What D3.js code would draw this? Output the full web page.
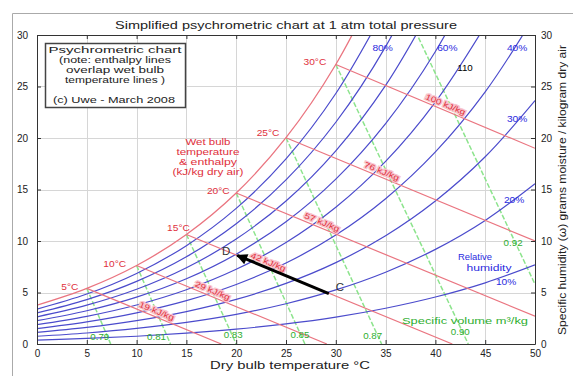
<!DOCTYPE html>
<html>
<head>
<meta charset="utf-8">
<script src="https://cdn.jsdelivr.net/npm/d3@7"></script>
<style>
  body { margin: 0; background: #fff; }
  svg { display: block; font-family: Arial, "Liberation Sans", sans-serif; }
</style>
</head>
<body>
<div id="app"></div>
<script>
const WIDTH = 573;
const HEIGHT = 376;

// dry bulb temperatures the curves were read at (°C)
const temps = [0, 5, 10, 15, 20, 25, 30, 35, 40, 45, 50];

// specific humidity (g/kg dry air) along the saturation and RH curves
const saturation = [3.77, 5.40, 7.62, 10.63, 14.66, 20.03, 27.14, 36.5];
const rh90 = [3.39, 4.85, 6.85, 9.55, 13.17, 17.97, 24.32, 32.66];
const rh80 = [3.02, 4.31, 6.08, 8.47, 11.68, 15.93, 21.53, 28.87, 38.46];
const rh70 = [2.64, 3.77, 5.31, 7.40, 10.19, 13.89, 18.76, 25.11, 33.39];
const rh60 = [2.26, 3.23, 4.55, 6.33, 8.72, 11.87, 16.01, 21.40, 28.40, 37.45];
const rh50 = [1.88, 2.69, 3.79, 5.27, 7.25, 9.86, 13.28, 17.73, 23.49, 30.90];
const rh40 = [1.50, 2.15, 3.03, 4.21, 5.78, 7.86, 10.58, 14.11, 18.65, 24.48, 31.91];
const rh30 = [1.13, 1.61, 2.27, 3.15, 4.33, 5.88, 7.90, 10.52, 13.89, 18.18, 23.63];
const rh20 = [0.75, 1.07, 1.51, 2.10, 2.88, 3.91, 5.25, 6.97, 9.19, 12.00, 15.56];
const rh10 = [0.38, 0.54, 0.75, 1.05, 1.44, 1.95, 2.61, 3.47, 4.56, 5.94, 7.68];
const rhSeries = [rh90, rh80, rh70, rh60, rh50, rh40, rh30, rh20, rh10];

// wet bulb / enthalpy lines: start on saturation, end [T, w]
const wetBulbTemps = [5, 10, 15, 20, 25, 30];
const enthalpyLabels = ['19 kJ/kg', '29 kJ/kg', '42 kJ/kg', '57 kJ/kg', '76 kJ/kg', '100 kJ/kg'];
const wetBulbEnds = [[18.5, 0], [29.1, 0], [41.7, 0], [50, 2.7], [50, 10.0], [50, 19.0]];

// specific volume lines (m3/kg), [T, w] at both ends
const volumeLabels = ['0.79', '0.81', '0.83', '0.85', '0.87', '0.90', '0.92'];
const volumeStarts = [[5, 5.40], [10, 7.62], [15, 10.63], [20, 14.66], [25, 20.03], [30, 27.14], [35, 36.5]];
const volumeEnds = [[7.4, 0], [13.4, 0], [20.0, 0], [26.9, 0], [34.6, 0], [43.3, 0], [50, 5.8]];

// process C -> D [T, w]
const stateC = [29.3, 4.9];
const stateD = [20.1, 8.6];

// label placements in chart units (layout only)
const rhLabelText = ['80%', '60%', '40%', '30%', '20%', '10%'];
const rhLabelAt = [[34.7, 28.7], [41.2, 28.7], [48.2, 28.7], [48.2, 21.8], [47.9, 14.0], [47.1, 6.0]];
const wetBulbLabelAt = [[3.3, 5.5], [7.8, 7.8], [14.2, 11.3], [18.2, 14.9], [23.2, 20.5], [27.9, 27.4]];
const enthalpyLabelAt = [11.8, 17.4, 23.0, 28.4, 34.4, 40.8];
const volumeLabelAt = [[6.3, 0.7], [12.0, 0.7], [19.7, 0.9], [26.4, 0.9], [33.7, 0.8], [42.5, 1.2], [47.8, 9.8]];

const RED = '#ea7580';
const RED_TEXT = '#e0303c';
const BLUE = '#4b4bcc';
const BLUE_TEXT = '#2a2ae0';
const GREEN = '#8de48d';
const GREEN_TEXT = '#2fae2f';

const svg = d3.select('#app').append('svg')
  .attr('width', WIDTH)
  .attr('height', HEIGHT);

const x = d3.scaleLinear().domain([0, 50]).range([37, 535]);
const y = d3.scaleLinear().domain([0, 30]).range([344, 35]);
const [plotLeft, plotRight] = x.range();
const [plotBottom, plotTop] = y.range();

function addText(parent, str, px, py, o = {}) {
  const t = parent.append('text')
    .attr('text-anchor', o.anchor || 'middle')
    .attr('font-size', o.size || 9)
    .attr('fill', o.fill || '#000')
    .text(str);
  if (o.width) {
    t.attr('x', px).attr('y', py)
      .attr('textLength', o.width)
      .attr('lengthAdjust', 'spacingAndGlyphs');
  } else {
    t.attr('transform', `translate(${px},${py}) scale(${o.sx || 1.15},1)`);
  }
  return t;
}

// outer figure frame
svg.append('path')
  .attr('d', `M12.5,${HEIGHT}V13.5H${WIDTH}`)
  .attr('fill', 'none')
  .attr('stroke', '#aaa');

addText(svg, 'Simplified psychrometric chart at 1 atm total pressure', 286, 29, { size: 11, fill: '#222', width: 342 });

svg.append('clipPath').attr('id', 'plot-clip')
  .append('rect')
  .attr('x', plotLeft).attr('y', plotTop)
  .attr('width', plotRight - plotLeft).attr('height', plotBottom - plotTop);

// grid
const grid = svg.append('g').attr('stroke', '#d6d6d6').attr('stroke-width', 1);
grid.selectAll('line.gx').data(x.ticks(10)).join('line')
  .attr('class', 'gx')
  .attr('x1', d => Math.round(x(d)) + 0.5).attr('x2', d => Math.round(x(d)) + 0.5)
  .attr('y1', plotTop).attr('y2', plotBottom);
grid.selectAll('line.gy').data(y.ticks(6)).join('line')
  .attr('class', 'gy')
  .attr('y1', d => Math.round(y(d)) + 0.5).attr('y2', d => Math.round(y(d)) + 0.5)
  .attr('x1', plotLeft).attr('x2', plotRight);

const plot = svg.append('g').attr('clip-path', 'url(#plot-clip)');

const curve = d3.line()
  .x(d => x(d[0]))
  .y(d => y(d[1]))
  .curve(d3.curveCatmullRom);

// specific volume lines
volumeStarts.forEach((s, i) => {
  plot.append('path')
    .attr('d', curve([s, volumeEnds[i]]))
    .attr('fill', 'none')
    .attr('stroke', GREEN)
    .attr('stroke-width', 1.5)
    .attr('stroke-dasharray', '5,2');
});

// relative humidity curves
rhSeries.forEach(vals => {
  plot.append('path')
    .datum(vals.map((w, i) => [temps[i], w]))
    .attr('d', curve)
    .attr('fill', 'none')
    .attr('stroke', BLUE)
    .attr('stroke-width', 1.2);
});

// wet bulb / enthalpy lines
const wetBulbStarts = wetBulbTemps.map(t => [t, saturation[temps.indexOf(t)]]);
wetBulbStarts.forEach((s, i) => {
  plot.append('path')
    .attr('d', curve([s, wetBulbEnds[i]]))
    .attr('fill', 'none')
    .attr('stroke', RED)
    .attr('stroke-width', 1.2);
});

// saturation curve
plot.append('path')
  .datum(saturation.map((w, i) => [temps[i], w]))
  .attr('d', curve)
  .attr('fill', 'none')
  .attr('stroke', RED)
  .attr('stroke-width', 1.3);

const labels = svg.append('g');

// enthalpy labels along their lines
wetBulbStarts.forEach((s, i) => {
  const e = wetBulbEnds[i];
  const t = enthalpyLabelAt[i];
  const w = s[1] + (e[1] - s[1]) * (t - s[0]) / (e[0] - s[0]);
  const ang = Math.atan2(y(e[1]) - y(s[1]), x(e[0]) - x(s[0])) * 180 / Math.PI;
  labels.append('text')
    .attr('transform', `translate(${x(t)},${y(w)}) rotate(${ang}) scale(1.25,1)`)
    .attr('y', -3)
    .attr('text-anchor', 'middle')
    .attr('font-size', 8)
    .attr('fill', RED_TEXT)
    .attr('stroke', '#f8c4cc')
    .attr('stroke-width', 2.5)
    .attr('paint-order', 'stroke')
    .text(enthalpyLabels[i]);
});

wetBulbTemps.forEach((t, i) => {
  const p = wetBulbLabelAt[i];
  addText(labels, `${t}°C`, x(p[0]), y(p[1]) + 3, { size: 8.5, fill: RED_TEXT, sx: 1.2 });
});

const redNote = ['Wet bulb', 'temperature', '& enthalpy', '(kJ/kg dry air)'];
const redNoteWidths = [45, 63, 58, 71];
redNote.forEach((s, i) => {
  addText(labels, s, 208, 145 + i * 10, { size: 9, fill: RED_TEXT, width: redNoteWidths[i] });
});

rhLabelText.forEach((s, i) => {
  const p = rhLabelAt[i];
  addText(labels, s, x(p[0]), y(p[1]) + 3, { size: 8.5, fill: BLUE_TEXT, sx: 1.2 });
});
addText(labels, 'Relative', 475, 260, { size: 8.5, fill: BLUE_TEXT, width: 34 });
addText(labels, 'humidity', 489, 271, { size: 8.5, fill: BLUE_TEXT, width: 45 });

volumeLabels.forEach((s, i) => {
  const p = volumeLabelAt[i];
  addText(labels, s, x(p[0]), y(p[1]) + 3, { size: 8.5, fill: GREEN_TEXT, sx: 1.15 });
});
addText(labels, 'Specific volume m³/kg', 465, 324, { size: 9, fill: GREEN_TEXT, width: 126 });

addText(labels, '110', 465, 71, { size: 8.5 });

// process arrow C -> D
svg.append('defs').append('marker')
  .attr('id', 'arrow-head')
  .attr('viewBox', '0 0 10 10')
  .attr('refX', 9).attr('refY', 5)
  .attr('markerUnits', 'userSpaceOnUse')
  .attr('markerWidth', 13).attr('markerHeight', 11)
  .attr('orient', 'auto')
  .append('path')
  .attr('d', 'M0,0L10,5L0,10z')
  .attr('fill', '#000');

svg.append('line')
  .attr('x1', x(stateC[0])).attr('y1', y(stateC[1]))
  .attr('x2', x(stateD[0])).attr('y2', y(stateD[1]))
  .attr('stroke', '#000')
  .attr('stroke-width', 3)
  .attr('marker-end', 'url(#arrow-head)');

addText(labels, 'C', x(stateC[0]) + 11, y(stateC[1]) - 3, { size: 10, fill: '#333' });
addText(labels, 'D', x(stateD[0]) - 11, y(stateD[1]), { size: 10, fill: '#333' });

// note box
const note = svg.append('g');
note.append('rect')
  .attr('x', 45.5).attr('y', 43.5)
  .attr('width', 140).attr('height', 64)
  .attr('fill', '#fff')
  .attr('stroke', '#444')
  .attr('stroke-width', 1.5);
const noteLines = ['Psychrometric chart', '(note: enthalpy lines', 'overlap wet bulb', 'temperature lines )'];
const noteWidths = [133, 112, 98, 100];
noteLines.forEach((s, i) => addText(note, s, 115, 53 + i * 10, { size: 9.5, fill: '#222', width: noteWidths[i] }));
addText(note, '(c) Uwe - March 2008', 114, 103, { size: 9.5, fill: '#222', width: 122 });

// axes (ticks inward, box all round)
const axes = svg.append('g').attr('font-size', 9.5).attr('font-family', 'Arial, "Liberation Sans", sans-serif');

axes.append('g')
  .attr('transform', `translate(0,${plotBottom})`)
  .call(d3.axisBottom(x).ticks(10).tickSizeInner(-4).tickSizeOuter(0).tickPadding(6));
axes.append('g')
  .attr('transform', `translate(0,${plotTop})`)
  .call(d3.axisTop(x).ticks(10).tickSizeInner(-4).tickSizeOuter(0).tickFormat(''));
axes.append('g')
  .attr('transform', `translate(${plotLeft},0)`)
  .call(d3.axisLeft(y).ticks(6).tickSizeInner(-4).tickSizeOuter(0).tickPadding(9));
axes.append('g')
  .attr('transform', `translate(${plotRight},0)`)
  .call(d3.axisRight(y).ticks(6).tickSizeInner(-4).tickSizeOuter(0).tickPadding(6));
axes.selectAll('.domain').attr('stroke', '#333');
axes.selectAll('.tick line').attr('stroke', '#333');
axes.selectAll('.tick text').attr('fill', '#222');

addText(svg, 'Dry bulb temperature °C', 290, 369, { size: 11, fill: '#222', width: 160 });
addText(svg, 'Specific humidity (ω) grams moisture / kilogram dry air', 0, 0, { size: 10, fill: '#222', width: 290 })
  .attr('transform', 'translate(566,190) rotate(-90)');
</script>
</body>
</html>
